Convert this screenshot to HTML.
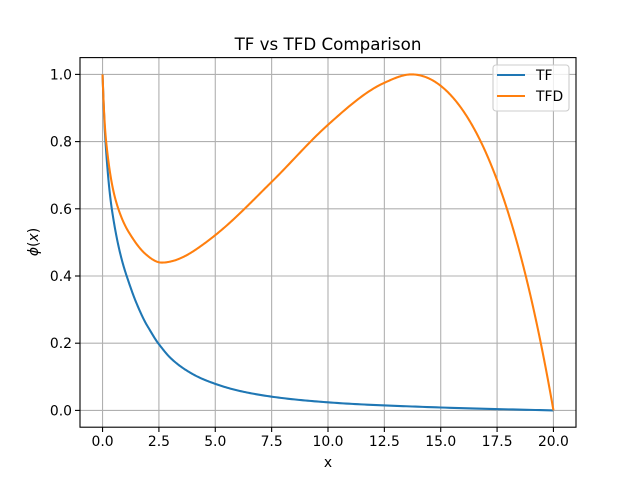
<!DOCTYPE html>
<html><head><meta charset="utf-8"><style>
body{margin:0;background:#fff}
text{font-family:"DejaVu Sans","Liberation Sans",sans-serif;fill:#000}
</style></head><body>
<svg id="s" width="640" height="480" xmlns="http://www.w3.org/2000/svg">
<rect width="640" height="480" fill="#fff"/>
<g id="grid" stroke="#b0b0b0" stroke-width="1.1"></g>
<path id="tf" fill="none" stroke="#1f77b4" stroke-width="2.08" stroke-linejoin="round"/>
<path id="tfd" fill="none" stroke="#ff7f0e" stroke-width="2.08" stroke-linejoin="round"/>
<rect x="80" y="57.6" width="496" height="369.6" fill="none" stroke="#000" stroke-width="1.1"/>
<g id="ticks" stroke="#000" stroke-width="1.1"></g>
<g id="labels" font-size="13.9"></g>
<text x="328" y="50" font-size="16.7" text-anchor="middle">TF vs TFD Comparison</text>
<text x="328" y="467" font-size="13.9" text-anchor="middle">x</text>
<text transform="translate(38,242) rotate(-90)" font-size="13.9" text-anchor="middle"><tspan font-style="italic">ϕ</tspan>(<tspan font-style="italic">x</tspan>)</text>
<rect x="493" y="65" width="76" height="46" rx="3" fill="#fff" fill-opacity="0.8" stroke="#ccc" stroke-width="1.1"/>
<line x1="497" y1="75" x2="525" y2="75" stroke="#1f77b4" stroke-width="2.08"/>
<line x1="497" y1="96" x2="525" y2="96" stroke="#ff7f0e" stroke-width="2.08"/>
<text x="536" y="80" font-size="13.9">TF</text>
<text x="536" y="101" font-size="13.9">TFD</text>
</svg>
<script>
var X=function(x){return 102.545+x*22.545},Y=function(y){return 410.4-y*336};
var g=document.getElementById('grid'),t=document.getElementById('ticks'),l=document.getElementById('labels'),ns='http://www.w3.org/2000/svg';
function el(p,n,a,txt){var e=document.createElementNS(ns,n);for(var k in a)e.setAttribute(k,a[k]);if(txt)e.textContent=txt;p.appendChild(e);}
for(var i=0;i<=8;i++){var v=i*2.5,px=X(v);el(g,'line',{x1:px,x2:px,y1:57.6,y2:427.2});el(t,'line',{x1:px,x2:px,y1:427.2,y2:432});el(l,'text',{x:px,y:446,'text-anchor':'middle'},v.toFixed(1));}
for(var i=0;i<=5;i++){var v=i*0.2,py=Y(v);el(g,'line',{x1:80,x2:576,y1:py,y2:py});el(t,'line',{x1:75,x2:80,y1:py,y2:py});el(l,'text',{x:72,y:py+5,'text-anchor':'end'},v.toFixed(1));}
function herm(P){var out=[];
for(var i=0;i<P.length-1;i++){var a=P[i],b=P[i+1],h=b[0]-a[0];
 for(var k=(i?1:0);k<=30;k++){var s=k/30,h00=2*s*s*s-3*s*s+1,h10=s*s*s-2*s*s+s,h01=-2*s*s*s+3*s*s,h11=s*s*s-s*s;
  out.push([a[0]+s*h,h00*a[1]+h10*h*a[2]+h01*b[1]+h11*h*b[2]]);}}
return out;}
function d(pts){return pts.map(function(p,i){return (i?'L':'M')+X(p[0]).toFixed(2)+','+Y(p[1]).toFixed(2)}).join('');}
var tf=herm([[0,1,-1.9],[0.13,0.8,-1.0],[0.41,0.6,-0.45],[1.07,0.4,-0.2],[1.5,0.32,-0.16],[2,0.25,-0.11],[2.5,0.197,-0.085],[3,0.157,-0.065],[4,0.108,-0.038],[5,0.079,-0.024],[7,0.046,-0.011],[10,0.024,-0.005],[14,0.011,-0.0025],[20,0,-0.0015]]);
var tfd=herm([[0,1,-2.0],[0.16,0.8,-0.65],[0.7,0.6,-0.2],[1.15,0.532,-0.11],[1.88,0.467,-0.06],[2.62,0.44,0],[4.1,0.477,0.045],[5.4,0.544,0.058],[7.5,0.68,0.066],[10,0.85,0.06],[12.5,0.975,0.03],[13.7,1,0]]);
for(var k=1;k<=200;k++){var x=13.7+6.3*k/200,u=x-13.7;tfd.push([x,1-0.01987*u*u-0.000134*u*u*u*u]);}
document.getElementById('tf').setAttribute('d',d(tf));
document.getElementById('tfd').setAttribute('d',d(tfd));
</script>
</body></html>
